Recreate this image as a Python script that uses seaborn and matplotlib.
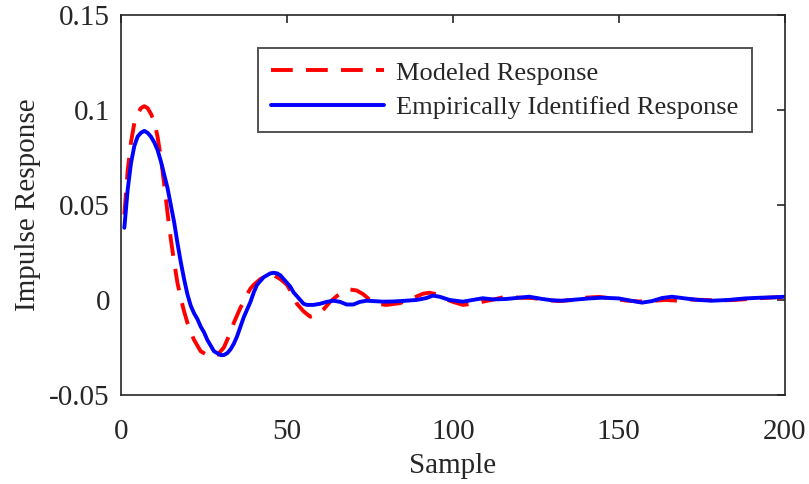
import matplotlib
matplotlib.use("Agg")
import matplotlib.pyplot as plt
import seaborn as sns
import pandas as pd

# Modeled response (red dashed)
model_x = [1, 2, 3, 4, 5, 6, 7, 8, 9, 10, 11, 12, 13, 14, 15, 16, 17, 18, 19, 20,
           21, 22, 23, 24, 25, 26, 27, 28, 29, 30, 31, 32, 33, 34, 35, 36, 37, 38, 39, 40,
           42, 44, 45, 46, 48, 50, 52, 53, 55, 57, 59, 61, 63, 65, 67, 69, 71, 73, 75, 77,
           80, 84, 88, 91, 93, 95, 97, 100, 103, 106, 109, 113, 116, 120, 124, 128, 132, 136,
           140, 144, 148, 152, 156, 160, 164, 168, 172, 176, 180, 185, 190, 195, 198, 200]
model_y = [0.045, 0.068, 0.083, 0.093, 0.098, 0.101, 0.102, 0.101, 0.098, 0.094, 0.086, 0.075,
           0.061, 0.046, 0.032, 0.020, 0.009, 0.001, -0.006, -0.012, -0.017, -0.021, -0.024,
           -0.027, -0.028, -0.029, -0.030, -0.030, -0.029, -0.027, -0.025, -0.021, -0.017,
           -0.012, -0.008, -0.004, -0.001, 0.003, 0.006, 0.008, 0.011, 0.013, 0.0135, 0.013,
           0.011, 0.008, 0.002, -0.002, -0.006, -0.0088, -0.008, -0.005, -0.001, 0.002, 0.0045,
           0.0055, 0.005, 0.003, 0.0, -0.002, -0.0026, -0.0017, 0.001, 0.0033, 0.0038, 0.003,
           0.001, -0.001, -0.0026, -0.002, -0.0009, 0.0005, 0.0018, 0.0012, 0.001, 0.0, -0.0006,
           0.0, 0.0012, 0.0016, 0.0008, -0.0003, -0.0008, -0.0005, 0.0, -0.0004, 0.0002, 0.0,
           -0.0003, 0.0, 0.0006, 0.0012, 0.0015, -0.0002]

# Empirically identified response (blue solid)
emp_x = [1, 2, 3, 4, 5, 6, 7, 8, 9, 10, 11, 12, 13, 14, 15, 16, 17, 18, 19, 20,
         21, 22, 23, 24, 25, 26, 27, 28, 29, 30, 31, 32, 33, 34, 35, 36, 37, 38, 39, 40,
         41, 42, 43, 44, 45, 46, 47, 48, 49, 50, 51, 52, 53, 54, 55, 56, 58, 60, 62, 64,
         66, 68, 70, 72, 74, 76, 79, 82, 85, 89, 92, 94, 96, 99, 103, 106, 109, 112, 116,
         120, 123, 127, 130, 133, 137, 141, 145, 150, 154, 157, 160, 163, 166, 170, 174,
         178, 183, 188, 193, 197, 200]
emp_y = [0.038, 0.058, 0.072, 0.081, 0.086, 0.088, 0.089, 0.088, 0.086, 0.083, 0.079, 0.073,
         0.066, 0.059, 0.050, 0.041, 0.030, 0.020, 0.011, 0.003, -0.003, -0.007, -0.010,
         -0.014, -0.017, -0.021, -0.024, -0.027, -0.028, -0.029, -0.029, -0.028, -0.026,
         -0.023, -0.019, -0.014, -0.009, -0.005, -0.001, 0.004, 0.008, 0.010, 0.012, 0.013,
         0.014, 0.0143, 0.014, 0.013, 0.011, 0.009, 0.007, 0.004, 0.002, 0.0, -0.002, -0.0026,
         -0.0026, -0.002, -0.001, -0.0004, -0.001, -0.0024, -0.0024, -0.001, -0.0004, -0.0006,
         -0.0009, -0.0008, -0.0005, 0.0, 0.001, 0.0023, 0.0017, 0.0, -0.0009, 0.0, 0.0009,
         0.0003, 0.0005, 0.0012, 0.0017, 0.0005, -0.0002, -0.0004, 0.0002, 0.0008, 0.0012,
         0.0008, -0.0005, -0.0014, -0.0006, 0.0010, 0.0017, 0.0008, 0.0, -0.0004, 0.0,
         0.0008, 0.0012, 0.0014, 0.0017]

labels = ["Modeled Response", "Empirically Identified Response"]
x_ticks = [0, 50, 100, 150, 200]
y_ticks = [-0.05, 0, 0.05, 0.1, 0.15]
y_tick_labels = ["-0.05", "0", "0.05", "0.1", "0.15"]

sns.set_style("white")
plt.rcParams["font.family"] = ["Liberation Serif", "DejaVu Serif"]
plt.rcParams["xtick.direction"] = "in"
plt.rcParams["ytick.direction"] = "in"

df_model = pd.DataFrame({"x": model_x, "y": model_y})
df_emp = pd.DataFrame({"x": emp_x, "y": emp_y})

fig = plt.figure(figsize=(8.09, 4.84), dpi=100)
ax = fig.add_axes([0.1496, 0.184, 0.8204, 0.785])

sns.lineplot(data=df_model, x="x", y="y", ax=ax, color="#ff0000", lw=2.8,
             label=labels[0], dashes=False)
ax.lines[-1].set_dashes([5.6, 3.4])
sns.lineplot(data=df_emp, x="x", y="y", ax=ax, color="#0000ff", lw=2.8,
             label=labels[1])

ax.set_xlim(0, 200)
ax.set_ylim(-0.05, 0.15)
ax.set_xticks(x_ticks)
ax.set_yticks(y_ticks)
ax.set_yticklabels(y_tick_labels)
ax.set_xlabel("Sample", fontsize=21, color="#262626", labelpad=6)
ax.set_ylabel("Impulse Response", fontsize=21, color="#262626", labelpad=6)
ax.tick_params(axis="both", labelsize=21, colors="#262626", length=6, width=1.2,
               top=True, right=True, direction="in", pad=8)
ax.tick_params(axis="x", pad=17)
for s in ax.spines.values():
    s.set_visible(True)
    s.set_color("#262626")
    s.set_linewidth(1.2)

leg = ax.legend(loc="upper left", bbox_to_anchor=(0.206, 0.913), borderaxespad=0,
                fontsize=19, frameon=True, fancybox=False, edgecolor="#262626",
                handlelength=4.3, borderpad=0.5, labelspacing=0.4,
                handletextpad=0.45)
leg.get_frame().set_linewidth(1.4)

fig.savefig("out.png", dpi=100)
